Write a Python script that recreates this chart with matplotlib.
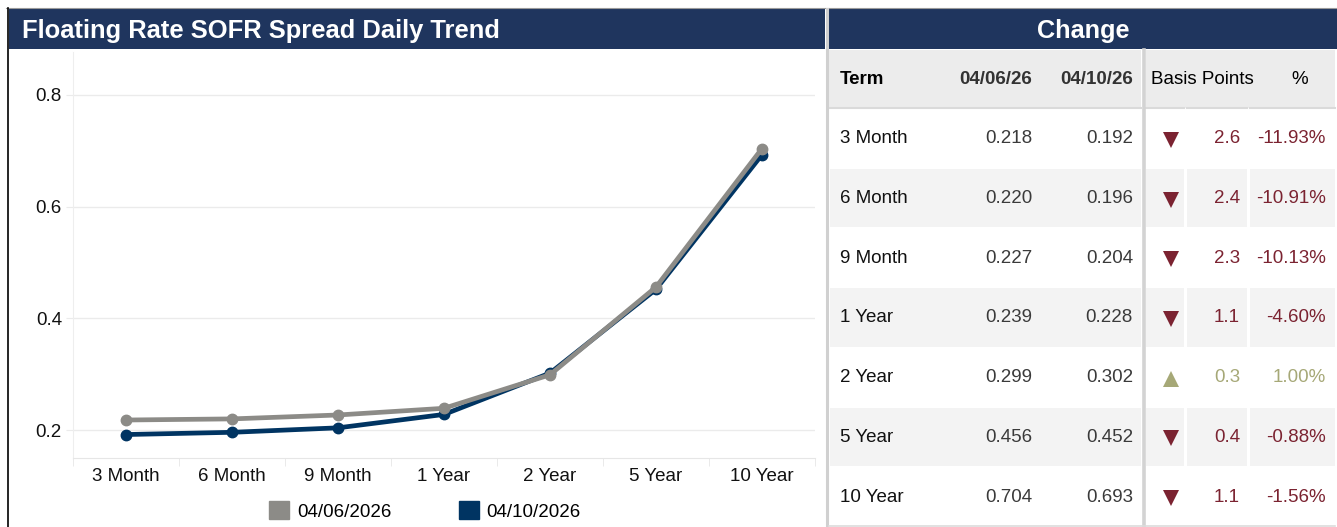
import matplotlib.pyplot as plt
from matplotlib.patches import Rectangle, Patch

# ---- data ----
terms = ['3 Month', '6 Month', '9 Month', '1 Year', '2 Year', '5 Year', '10 Year']
date_old = '04/06/2026'
date_new = '04/10/2026'
hdr_old = '04/06/26'
hdr_new = '04/10/26'
spread_old = [0.218, 0.220, 0.227, 0.239, 0.299, 0.456, 0.704]
spread_new = [0.192, 0.196, 0.204, 0.228, 0.302, 0.452, 0.693]
bp_change = [2.6, 2.4, 2.3, 1.1, 0.3, 0.4, 1.1]
pct_change = [-11.93, -10.91, -10.13, -4.60, 1.00, -0.88, -1.56]
y_ticks = [0.2, 0.4, 0.6, 0.8]

W, H = 1337, 527
NAVY = '#1f355e'
GRAY_LINE = '#8c8b87'
BLUE_LINE = '#003462'
DOWN = '#7b2331'
UP = '#a6a877'
TXT = '#3a3a3a'

plt.rcParams['font.family'] = ['Liberation Sans', 'DejaVu Sans']

fig = plt.figure(figsize=(W / 100, H / 100), dpi=100)

# background canvas in pixel units (headers, borders, table)
bg = fig.add_axes([0, 0, 1, 1])
bg.set_xlim(0, W)
bg.set_ylim(H, 0)
bg.axis('off')

# frame lines
bg.plot([6, W], [8, 8], color='#9a9a9a', lw=0.8)
bg.plot([7.5, 7.5], [8, H], color='black', lw=1.2)
bg.plot([826.5, 826.5], [9, H], color='#d0d0d0', lw=2.2)

# header bars
bg.add_patch(Rectangle((9, 9), 816, 39.5, color=NAVY, lw=0))
bg.add_patch(Rectangle((829, 9), W - 829, 39.5, color=NAVY, lw=0))
bg.text(22, 31, 'Floating Rate SOFR Spread Daily Trend', color='white',
        fontsize=18.4, fontweight='bold', va='center', ha='left')
bg.text((829 + W) / 2, 31, 'Change', color='white',
        fontsize=18.2, fontweight='bold', va='center', ha='center')

# ---- table ----
term_x, old_x, new_x = 840, 1032, 1133
tri_x, bp_x, pct_x = 1170, 1240, 1326
left_seg = (829, 1141)
right_segs = [(1146, 1184), (1187, 1247), (1250, 1335)]
top, row_h, hdr_top = 108, 59.7, 50

bg.add_patch(Rectangle((left_seg[0], hdr_top), left_seg[1] - left_seg[0], top - hdr_top,
                       color='#ececec', lw=0))
bg.add_patch(Rectangle((1146, hdr_top), 1335 - 1146, top - hdr_top, color='#ececec', lw=0))
hy = (hdr_top + top) / 2 + 1
bg.text(term_x, hy, 'Term', fontsize=13.5, fontweight='bold', color='black', va='center')
bg.text(old_x, hy, hdr_old, fontsize=13.5, fontweight='bold', color='#333333', va='center', ha='right')
bg.text(new_x, hy, hdr_new, fontsize=13.5, fontweight='bold', color='#333333', va='center', ha='right')
bg.text(1151, hy, 'Basis Points', fontsize=13.5, color='black', va='center', ha='left')
bg.text(1300, hy, '%', fontsize=13.5, color='black', va='center', ha='center')

# line under header
bg.plot([left_seg[0] + 1, left_seg[1]], [top, top], color='#dadada', lw=1.5)
for a, b in right_segs:
    bg.plot([a, b], [top, top], color='#dadada', lw=1.5)

for i, term in enumerate(terms):
    y0 = top + i * row_h
    yc = y0 + row_h / 2 + 1
    if i % 2 == 1:
        bg.add_patch(Rectangle((830, y0 + 1), left_seg[1] - 830, row_h - 1,
                               color='#f3f3f3', lw=0))
        for a, b in right_segs:
            bg.add_patch(Rectangle((a, y0 + 1), b - a, row_h - 1, color='#f3f3f3', lw=0))
    up = spread_new[i] > spread_old[i]
    col = UP if up else DOWN
    bg.text(term_x, yc, term, fontsize=13.5, color='#111111', va='center')
    bg.text(old_x, yc, f'{spread_old[i]:.3f}', fontsize=13.5, color=TXT, va='center', ha='right')
    bg.text(new_x, yc, f'{spread_new[i]:.3f}', fontsize=13.5, color=TXT, va='center', ha='right')
    bg.plot([tri_x + 1], [yc + 1], marker='^' if up else 'v', ms=11.5, color=col, mew=0)
    bg.text(bp_x, yc, f'{bp_change[i]:.1f}', fontsize=13.5, color=col, va='center', ha='right')
    bg.text(pct_x, yc, f'{pct_change[i]:.2f}%', fontsize=13.5, color=col, va='center', ha='right')

bg.plot([1143.5, 1143.5], [hdr_top, H], color='#d3d3d3', lw=2.6)
bg.plot([829, 1335], [525.5, 525.5], color='#dcdcdc', lw=1.2)

# ---- line chart ----
ax = fig.add_axes([73 / W, (H - 458) / H, 742 / W, 406 / H])
x = list(range(len(terms)))
ax.plot(x, spread_new, color=BLUE_LINE, lw=3.4, marker='o', ms=7.5, zorder=3,
        solid_capstyle='round')
ax.plot(x, spread_old, color=GRAY_LINE, lw=3.4, marker='o', ms=7.5, zorder=4,
        solid_capstyle='round')

ax.set_xlim(-0.5, len(terms) - 0.5)
ax.set_ylim(0.15, 0.8768)
ax.set_xticks(x, terms)
ax.set_xticks([k - 0.5 for k in range(len(terms) + 1)], minor=True)
ax.set_yticks(y_ticks, [f'{v:.1f}' for v in y_ticks])
ax.grid(axis='y', color='#ebebeb', lw=1)
ax.tick_params(axis='x', which='major', length=0, pad=7, labelsize=13.5, labelcolor='#111111')
ax.tick_params(axis='x', which='minor', length=6, color='#e6e6e6')
ax.tick_params(axis='y', length=5, color='#ebebeb', pad=3, labelsize=13.5, labelcolor='#111111')
for s in ['top', 'right']:
    ax.spines[s].set_visible(False)
ax.spines['bottom'].set_color('#e6e6e6')
ax.spines['left'].set_color('#eeeeee')

fig.legend(handles=[Patch(color=GRAY_LINE, label=date_old),
                    Patch(color=BLUE_LINE, label=date_new)],
           loc='center', bbox_to_anchor=(425 / W, 1 - 511 / H), ncol=2, frameon=False,
           fontsize=13.5, handlelength=1.07, handleheight=1.07, handletextpad=0.4,
           columnspacing=3.6)

fig.savefig('out.png', dpi=100)
